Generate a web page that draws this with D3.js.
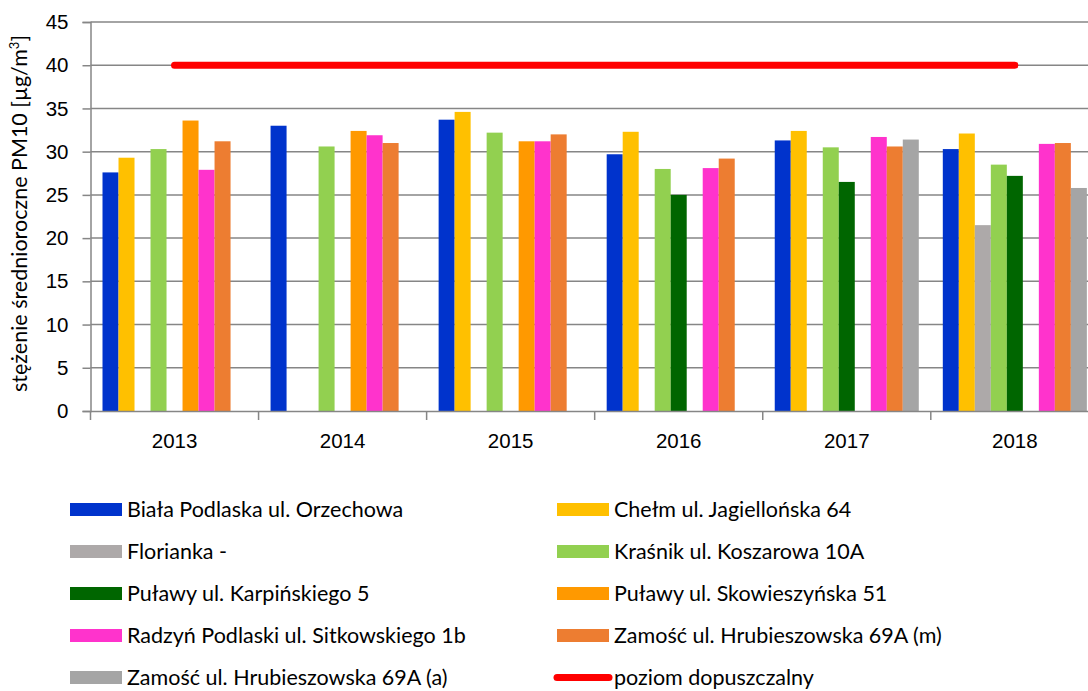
<!DOCTYPE html>
<html>
    <head>
        <meta charset="utf-8">
        <title>PM10</title>
        <style>
body {
    margin: 0;
    background-color: white;
}

svg {
    display: block;
    font-family: Lato, "Open Sans", sans-serif;
}

.grid line {
    stroke: #868686;
    stroke-width: 1.5;
}

</style>
        <script src="https://d3js.org/d3.v7.min.js"></script>
    </head>
    <body>
        <script>
var width = 1088,
    height = 691;

var years = ["2013", "2014", "2015", "2016", "2017", "2018"];

var stations = [
    "Biała Podlaska ul. Orzechowa",
    "Chełm ul. Jagiellońska 64",
    "Florianka -",
    "Kraśnik ul. Koszarowa 10A",
    "Puławy ul. Karpińskiego 5",
    "Puławy ul. Skowieszyńska 51",
    "Radzyń Podlaski ul. Sitkowskiego 1b",
    "Zamość ul. Hrubieszowska 69A (m)",
    "Zamość ul. Hrubieszowska 69A (a)"
];

var colors = ["#0033CC", "#FFC000", "#ADA9A9", "#92D050", "#006600",
              "#FF9900", "#FF33CC", "#ED7D31", "#A5A5A5"];

// one array per station, one value per year (null = no measurement)
var bialaPodlaska = [27.6, 33.0, 33.7, 29.7, 31.3, 30.3];
var chelm         = [29.3, null, 34.6, 32.3, 32.4, 32.1];
var florianka     = [null, null, null, null, null, 21.5];
var krasnik       = [30.3, 30.6, 32.2, 28.0, 30.5, 28.5];
var pulawyKarp    = [null, null, null, 25.0, 26.5, 27.2];
var pulawySkow    = [33.6, 32.4, 31.2, null, null, null];
var radzyn        = [27.9, 31.9, 31.2, 28.1, 31.7, 30.9];
var zamoscM       = [31.2, 31.0, 32.0, 29.2, 30.6, 31.0];
var zamoscA       = [null, null, null, null, 31.4, 25.8];

var seriesValues = [bialaPodlaska, chelm, florianka, krasnik, pulawyKarp,
                    pulawySkow, radzyn, zamoscM, zamoscA];

var limitLabel = "poziom dopuszczalny";
var limitValue = [40, 40, 40, 40, 40, 40];

var yTicks = [0, 5, 10, 15, 20, 25, 30, 35, 40, 45];

var margin = {left: 90.5, top: 22};
var plotBottom = 411;
var groupWidth = 168.06;
var fontSize = "21.5px";
var tickFont = "20.5px";

var svg = d3.select("body")
    .append("svg")
    .attr("width", width)
    .attr("height", height);

var x0 = d3.scaleBand()
    .domain(years)
    .range([margin.left, margin.left + groupWidth * years.length])
    .paddingInner(0)
    .paddingOuter(0);

var x1 = d3.scaleBand()
    .domain(d3.range(stations.length))
    .range([0, x0.bandwidth()])
    .paddingInner(0)
    .paddingOuter(0.75);

var y = d3.scaleLinear()
    .domain([0, 45])
    .range([plotBottom, margin.top]);

// gridlines
svg.append("g")
    .attr("class", "grid")
    .selectAll("line")
    .data(yTicks.slice(1))
    .enter()
    .append("line")
    .attr("x1", margin.left)
    .attr("x2", width)
    .attr("y1", function (d) { return y(d); })
    .attr("y2", function (d) { return y(d); });

// bars
var groups = svg.append("g")
    .selectAll("g")
    .data(years)
    .enter()
    .append("g")
    .attr("transform", function (d) { return "translate(" + x0(d) + ",0)"; });

groups.selectAll("rect")
    .data(function (d, yi) {
        return seriesValues.map(function (s, si) {
            return {series: si, value: s[yi]};
        }).filter(function (o) { return o.value !== null; });
    })
    .enter()
    .append("rect")
    .attr("x", function (d) { return x1(d.series); })
    .attr("width", x1.bandwidth())
    .attr("y", function (d) { return y(d.value); })
    .attr("height", function (d) { return y(0) - y(d.value); })
    .style("fill", function (d) { return colors[d.series]; });

// limit line
var line = d3.line()
    .x(function (d, i) { return x0(years[i]) + x0.bandwidth() / 2; })
    .y(function (d) { return y(d); });

svg.append("path")
    .datum(limitValue)
    .attr("d", line)
    .style("fill", "none")
    .style("stroke", "#FF0000")
    .style("stroke-width", 7)
    .style("stroke-linecap", "round");

// y axis
var yAxis = d3.axisLeft(y)
    .tickValues(yTicks)
    .tickSize(8)
    .tickPadding(14);

var gy = svg.append("g")
    .attr("transform", "translate(" + margin.left + ",0)")
    .call(yAxis);
gy.select(".domain").attr("stroke", "#868686").attr("stroke-width", 1.5);
gy.selectAll(".tick line").attr("stroke", "#868686").attr("stroke-width", 1.5);
gy.selectAll(".tick text")
    .style("font-size", tickFont)
    .style("fill", "#000");

// x axis
var xAxis = d3.axisBottom(x0)
    .tickSize(0)
    .tickPadding(22);

var gx = svg.append("g")
    .attr("transform", "translate(0," + plotBottom + ")")
    .call(xAxis);
gx.select(".domain").attr("stroke", "#868686").attr("stroke-width", 1.5);
gx.selectAll(".tick text")
    .style("font-size", tickFont)
    .style("fill", "#000");

gx.selectAll(".sep")
    .data(years.concat(["end"]))
    .enter()
    .append("line")
    .attr("x1", function (d, i) { return margin.left + i * groupWidth; })
    .attr("x2", function (d, i) { return margin.left + i * groupWidth; })
    .attr("y1", 0)
    .attr("y2", 9)
    .attr("stroke", "#868686")
    .attr("stroke-width", 1.5);

// y axis title
var title = svg.append("text")
    .attr("transform", "translate(27," + (y(22.5) - 3) + ") rotate(-90)")
    .attr("text-anchor", "middle")
    .style("font-size", fontSize)
    .style("fill", "#000");
title.append("tspan").text("stężenie średnioroczne PM10 [µg/m");
title.append("tspan").attr("baseline-shift", "super").style("font-size", "13px").text("3");
title.append("tspan").text("]");

// legend
var legendItems = stations.map(function (s, i) {
    return {label: s, color: colors[i], type: "bar"};
});
legendItems.push({label: limitLabel, color: "#FF0000", type: "line"});

var legend = svg.append("g")
    .selectAll("g")
    .data(legendItems)
    .enter()
    .append("g")
    .attr("transform", function (d, i) {
        var col = i % 2, row = Math.floor(i / 2);
        return "translate(" + (col === 0 ? 70 : 557) + "," + (509.5 + row * 42) + ")";
    });

legend.filter(function (d) { return d.type === "bar"; })
    .append("rect")
    .attr("x", 0)
    .attr("y", -6.5)
    .attr("width", 52)
    .attr("height", 13)
    .style("fill", function (d) { return d.color; });

legend.filter(function (d) { return d.type === "line"; })
    .append("line")
    .attr("x1", 0)
    .attr("x2", 52)
    .attr("y1", 0)
    .attr("y2", 0)
    .style("stroke", function (d) { return d.color; })
    .style("stroke-width", 7)
    .style("stroke-linecap", "round");

legend.append("text")
    .attr("x", 57)
    .attr("y", 0)
    .attr("dy", "0.33em")
    .style("font-size", fontSize)
    .style("fill", "#000")
    .text(function (d) { return d.label; });

        </script>
    </body>
</html>
